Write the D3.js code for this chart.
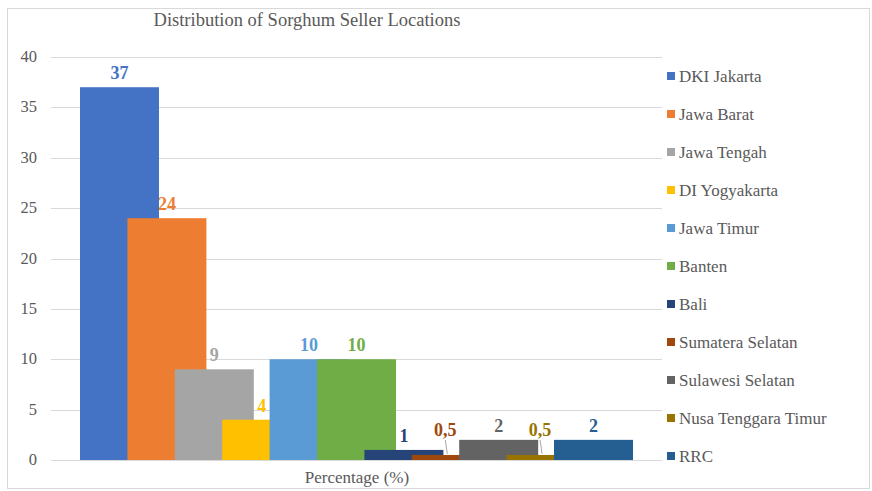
<!DOCTYPE html>
<html>
<head>
<meta charset="utf-8">
<script src="https://cdn.jsdelivr.net/npm/d3@7"></script>
<style>
  body { margin: 0; background: #fff; }
  text { font-family: "Liberation Serif", "DejaVu Serif", serif; }
</style>
</head>
<body>
<div class="canvas"></div>
<script>
const dims = {
    width: 872,
    height: 491,
    left: 80,
    step: 47.4,
    barWidth: 79,
    top: 57,
    bottom: 460,
    gridLeft: 51,
    gridRight: 662
};

const regions = ['DKI Jakarta', 'Jawa Barat', 'Jawa Tengah', 'DI Yogyakarta', 'Jawa Timur', 'Banten',
    'Bali', 'Sumatera Selatan', 'Sulawesi Selatan', 'Nusa Tenggara Timur', 'RRC'];
const percentages = [37, 24, 9, 4, 10, 10, 1, 0.5, 2, 0.5, 2];
const valueLabels = ['37', '24', '9', '4', '10', '10', '1', '0,5', '2', '0,5', '2'];
const yTicks = [0, 5, 10, 15, 20, 25, 30, 35, 40];
const colours = ['#4472c4', '#ed7d31', '#a5a5a5', '#ffc000', '#5b9bd5', '#70ad47',
    '#264478', '#9e480e', '#636363', '#997300', '#255e91'];

const svg = d3.select('.canvas')
    .append('svg')
    .attr('width', dims.width)
    .attr('height', dims.height);

// chart frame
svg.append('rect')
    .attr('x', 7.5).attr('y', 8.5)
    .attr('width', 862).attr('height', 480)
    .attr('fill', 'none')
    .attr('stroke', '#d9d9d9');

const x = d3.scaleBand()
    .domain(regions)
    .range([dims.left, dims.left + dims.step * regions.length])
    .paddingInner(0).paddingOuter(0);

const y = d3.scaleLinear()
    .domain([0, 40])
    .range([dims.bottom, dims.top]);

const colour = d3.scaleOrdinal().domain(regions).range(colours);

// gridlines + tick labels
const grid = svg.append('g').attr('class', 'grid');
grid.selectAll('line')
    .data(yTicks)
    .enter()
    .append('line')
    .attr('x1', dims.gridLeft).attr('x2', dims.gridRight)
    .attr('y1', d => Math.round(y(d)) + 0.5)
    .attr('y2', d => Math.round(y(d)) + 0.5)
    .attr('stroke', '#d9d9d9');

grid.selectAll('text')
    .data(yTicks)
    .enter()
    .append('text')
    .attr('x', 37)
    .attr('y', d => y(d) + 5)
    .attr('text-anchor', 'end')
    .attr('font-size', 16.5)
    .attr('fill', '#595959')
    .text(d => d);

// bars, later ones drawn over earlier ones
const data = regions.map((r, i) => ({ name: r, value: percentages[i], label: valueLabels[i] }));

svg.append('g').attr('class', 'bars')
    .selectAll('rect')
    .data(data)
    .enter()
    .append('rect')
    .attr('x', d => x(d.name))
    .attr('y', d => y(d.value))
    .attr('width', dims.barWidth)
    .attr('height', d => y(0) - y(d.value))
    .attr('fill', d => colour(d.name));

// value labels
const labels = svg.append('g').attr('class', 'labels');
labels.selectAll('text')
    .data(data)
    .enter()
    .append('text')
    .attr('x', d => x(d.name) + dims.barWidth / 2 - (d.value < 1 ? 6 : 0))
    .attr('y', d => d.value < 1 ? y(d.value) - 19 : y(d.value) - 8)
    .attr('text-anchor', 'middle')
    .attr('font-size', 18)
    .attr('font-weight', 'bold')
    .attr('fill', d => colour(d.name))
    .text(d => d.label);

// leader lines for the small labels
labels.selectAll('line')
    .data(data.filter(d => d.value < 1))
    .enter()
    .append('line')
    .attr('x1', d => x(d.name) + dims.barWidth / 2 - 6)
    .attr('y1', d => y(d.value) - 15)
    .attr('x2', d => x(d.name) + dims.barWidth / 2 - 4)
    .attr('y2', d => y(d.value) - 1)
    .attr('stroke', '#a6a6a6');

// title and axis title
svg.append('text')
    .attr('x', 307).attr('y', 26)
    .attr('text-anchor', 'middle')
    .attr('font-size', 18.5)
    .attr('fill', '#595959')
    .text('Distribution of Sorghum Seller Locations');

svg.append('text')
    .attr('x', 357).attr('y', 483)
    .attr('text-anchor', 'middle')
    .attr('font-size', 17)
    .attr('fill', '#595959')
    .text('Percentage (%)');

// legend
const legend = svg.append('g').attr('class', 'legend')
    .selectAll('g')
    .data(regions)
    .enter()
    .append('g')
    .attr('transform', (d, i) => `translate(667, ${76 + i * 38})`);

legend.append('rect')
    .attr('x', 0).attr('y', -4)
    .attr('width', 8).attr('height', 8)
    .attr('fill', d => colour(d));

legend.append('text')
    .attr('x', 12).attr('y', 6)
    .attr('font-size', 17)
    .attr('fill', '#595959')
    .text(d => d);
</script>
</body>
</html>
